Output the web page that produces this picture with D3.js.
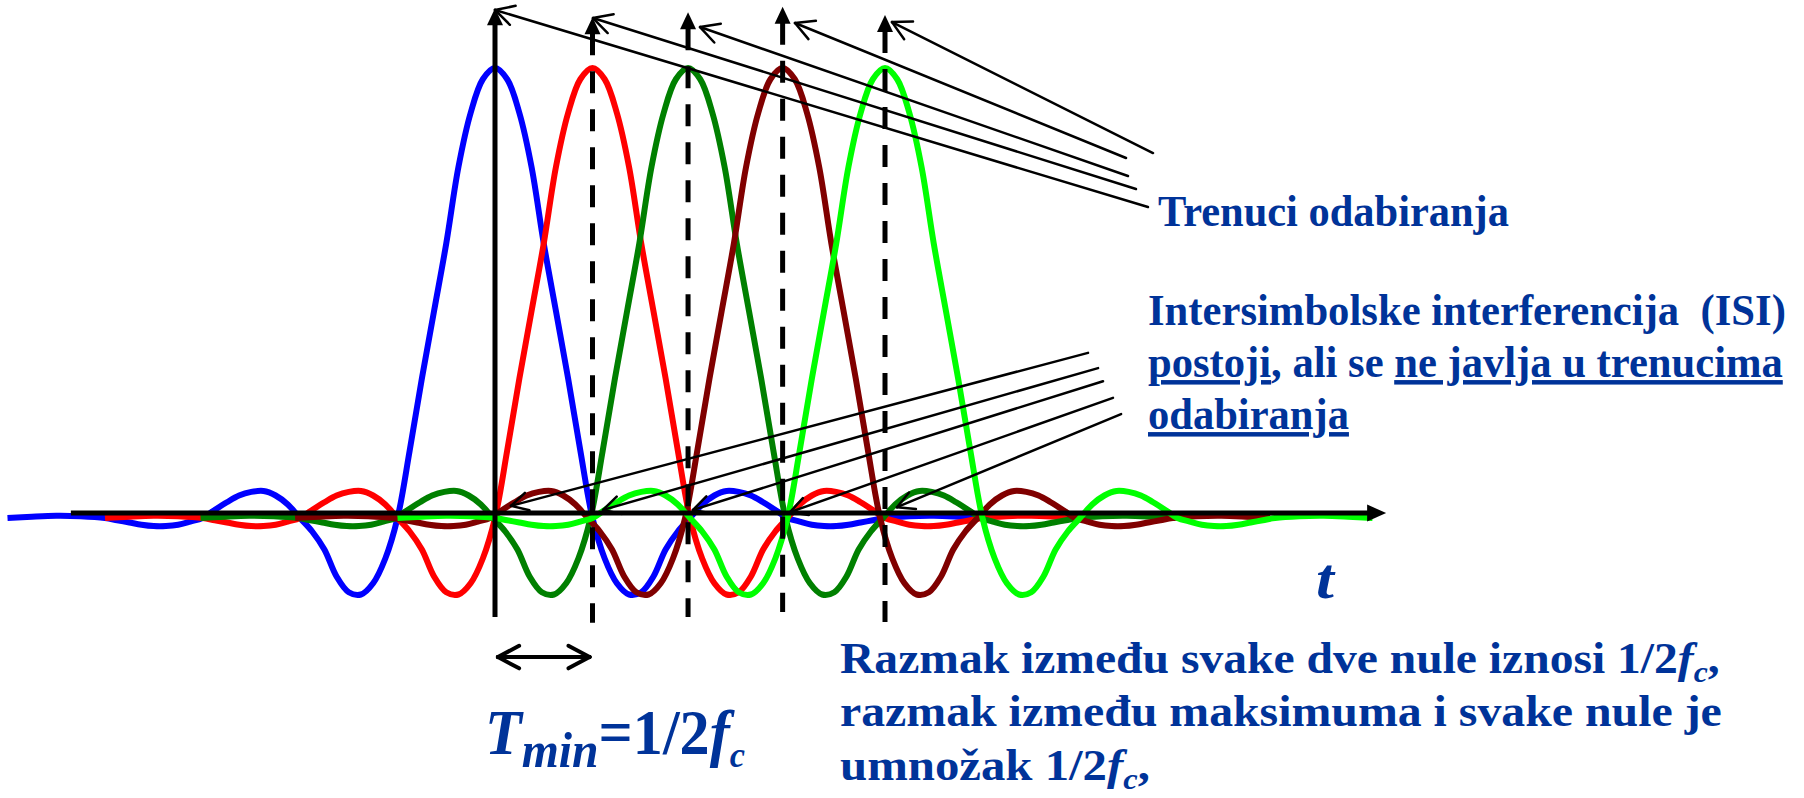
<!DOCTYPE html>
<html lang="en">
<head>
	<meta charset="UTF-8">
	<title>Nyquist impulsi</title>
	<script src="https://cdn.jsdelivr.net/npm/d3@7"></script>
	<style>
		body { margin: 0; background: #fff; }
		text { font-family: "Liberation Serif", "Times New Roman", serif; font-weight: bold; fill: #003399; }
	</style>
</head>
<body>
	<svg id="svg"></svg>
	<script>
		// one pulse (time in units of T = 1/2fc), right half
		var halfOffsets = [0, 0.125, 0.25, 0.375, 0.5, 0.625, 0.75, 0.875, 1, 1.125, 1.25, 1.375, 1.5, 1.625, 1.75, 1.875,
			2, 2.125, 2.25, 2.375, 2.5, 2.625, 2.75, 2.875, 3, 3.125, 3.25, 3.375, 3.5, 3.625, 3.75, 3.875, 4, 4.25, 4.5, 4.75, 5];
		var halfValues = [1, 0.975, 0.9, 0.78, 0.61, 0.46, 0.31, 0.15, 0, -0.09, -0.145, -0.17, -0.165, -0.13, -0.07, -0.03,
			0, 0.03, 0.05, 0.06, 0.058, 0.05, 0.035, 0.018, 0, -0.008, -0.015, -0.018, -0.018, -0.015, -0.01, -0.005, 0, 0.004, 0.005, 0.003, 0];
		var pulseCenters = [0, 1, 1.98, 2.95, 4];
		var pulseColors = ["#0000ff", "#ff0000", "#008000", "#800000", "#00ff00"];

		// sampling instants (vertical markers)
		var markerTops = [1.133, 1.113, 1.124, 1.136, 1.118];
		var markerBottoms = [-0.22, -0.233, -0.22, -0.209, -0.231];
		var axisStart = -4.35, axisEnd = 9.14, axisLevel = 0.011;

		// annotation arrows [t, value]
		var topArrowTips = [[0, 1.129], [1.005, 1.111], [2.103, 1.091], [3.077, 1.1], [4.072, 1.102]];
		var topArrowEnds = [[6.697, 0.691], [6.574, 0.731], [6.492, 0.76], [6.472, 0.8], [6.749, 0.811]];
		var isiArrowTips = [[0.164, 0.027], [1.108, 0.018], [2.031, 0.018], [3.026, 0.013], [4.123, 0.024]];
		var isiArrowEnds = [[6.082, 0.367], [6.185, 0.333], [6.236, 0.304], [6.338, 0.267], [6.421, 0.231]];
		var spanArrow = [[0.03, -0.309], [0.97, -0.309]];

		var w = 1804, h = 798,
			svg = d3.select("#svg").attr("width", w).attr("height", h);

		var x = d3.scaleLinear().domain([0, 1]).range([495, 592.5]);
		var y = d3.scaleLinear().domain([0, 1]).range([518, 68]);

		// the pulse is even: mirror the right half
		var pulse = halfOffsets.slice(1).reverse().map(function(o, i, a) {
			return [-o, halfValues[a.length - i]];
		}).concat(halfOffsets.map(function(o, i) { return [o, halfValues[i]]; }));

		var line = d3.line()
			.x(function(d) { return x(d[0]); })
			.y(function(d) { return y(d[1]); })
			.curve(d3.curveCatmullRom.alpha(0.5));

		svg.append("g").selectAll("path")
			.data(pulseCenters)
			.enter().append("path")
			.attr("d", function(c) {
				return line(pulse.map(function(p) { return [c + p[0], p[1]]; }));
			})
			.attr("fill", "none")
			.attr("stroke", function(c, i) { return pulseColors[i]; })
			.attr("stroke-width", 6)
			.attr("stroke-linejoin", "round");

		var axes = svg.append("g");

		// time axis
		axes.append("line")
			.attr("x1", x(axisStart)).attr("x2", x(axisEnd) - 16)
			.attr("y1", y(axisLevel)).attr("y2", y(axisLevel))
			.attr("stroke", "#000").attr("stroke-width", 5);
		axes.append("path")
			.attr("d", "M" + x(axisEnd) + "," + y(axisLevel) + "l-19,-8.5v17z")
			.attr("fill", "#000");

		// vertical markers (first solid, others dashed)
		pulseCenters.forEach(function(c, i) {
			var xt = x(c), yt = y(markerTops[i]);
			axes.append("line")
				.attr("x1", xt).attr("x2", xt)
				.attr("y1", yt + 16).attr("y2", y(markerBottoms[i]))
				.attr("stroke", "#000").attr("stroke-width", 5)
				.attr("stroke-dasharray", i === 0 ? null : "22,16");
			axes.append("path")
				.attr("d", "M" + xt + "," + yt + "l8,17h-16z")
				.attr("fill", "#000");
		});

		function openArrow(g, tip, end, len, ang, width) {
			var a = Math.atan2(end[1] - tip[1], end[0] - tip[0]);
			g.append("line")
				.attr("x1", tip[0]).attr("y1", tip[1]).attr("x2", end[0]).attr("y2", end[1]);
			[-1, 1].forEach(function(s) {
				g.append("line")
					.attr("x1", tip[0]).attr("y1", tip[1])
					.attr("x2", tip[0] + len * Math.cos(a + s * ang))
					.attr("y2", tip[1] + len * Math.sin(a + s * ang));
			});
			g.attr("stroke", "#000").attr("stroke-width", width).attr("stroke-linecap", "round");
		}
		function px(p) { return [x(p[0]), y(p[1])]; }

		var ann = svg.append("g");
		topArrowTips.forEach(function(t, i) {
			openArrow(ann.append("g"), px(t), px(topArrowEnds[i]), 21, 0.49, 2.5);
		});
		isiArrowTips.forEach(function(t, i) {
			openArrow(ann.append("g"), px(t), px(isiArrowEnds[i]), 19, 0.49, 2.5);
		});
		// T span, arrows at both ends
		openArrow(ann.append("g"), px(spanArrow[0]), px(spanArrow[1]), 24, 0.49, 4);
		openArrow(ann.append("g"), px(spanArrow[1]), px(spanArrow[0]), 24, 0.49, 4);

		// texts
		function squeeze(t, x0, width) {
			var k = width / t.node().getBBox().width;
			t.attr("transform", "translate(" + x0 + ",0) scale(" + k + ",1) translate(" + (-x0) + ",0)");
		}
		function addText(x0, y0, size, width, parts) {
			var t = svg.append("text").attr("x", x0).attr("y", y0)
				.style("font-size", size + "px").style("white-space", "pre");
			parts.forEach(function(p) {
				var s = t.append("tspan").text(p.s);
				if (p.i) s.style("font-style", "italic");
				if (p.u) s.style("text-decoration", "underline");
				if (p.size) s.style("font-size", p.size + "px");
				if (p.dy) s.attr("dy", p.dy);
			});
			squeeze(t, x0, width);
			return t;
		}

		addText(1158, 226, 45, 351, [{s: "Trenuci odabiranja"}]);
		addText(1148, 325, 45, 638, [{s: "Intersimbolske interferencija  (ISI)"}]);
		addText(1148, 377, 45, 635, [{s: "postoji", u: 1}, {s: ", ali se "}, {s: "ne javlja u trenucima", u: 1}]);
		addText(1148, 429, 45, 201, [{s: "odabiranja", u: 1}]);

		addText(1316, 598, 58, 20, [{s: "t", i: 1}]);

		addText(485, 754, 63, 260, [
			{s: "T", i: 1}, {s: "min", i: 1, size: 50, dy: 13},
			{s: "=1/2", dy: -13}, {s: "f", i: 1}, {s: "c", i: 1, size: 36, dy: 13}
		]);

		addText(840, 673, 45, 880, [
			{s: "Razmak između svake dve nule iznosi 1/2"}, {s: "f", i: 1},
			{s: "c", i: 1, size: 30, dy: 9}, {s: ",", dy: -9}
		]);
		addText(840, 726, 45, 882, [{s: "razmak između maksimuma i svake nule je"}]);
		addText(840, 780, 45, 310, [
			{s: "umnožak 1/2"}, {s: "f", i: 1},
			{s: "c", i: 1, size: 30, dy: 9}, {s: ",", dy: -9}
		]);
	</script>
</body>
</html>
